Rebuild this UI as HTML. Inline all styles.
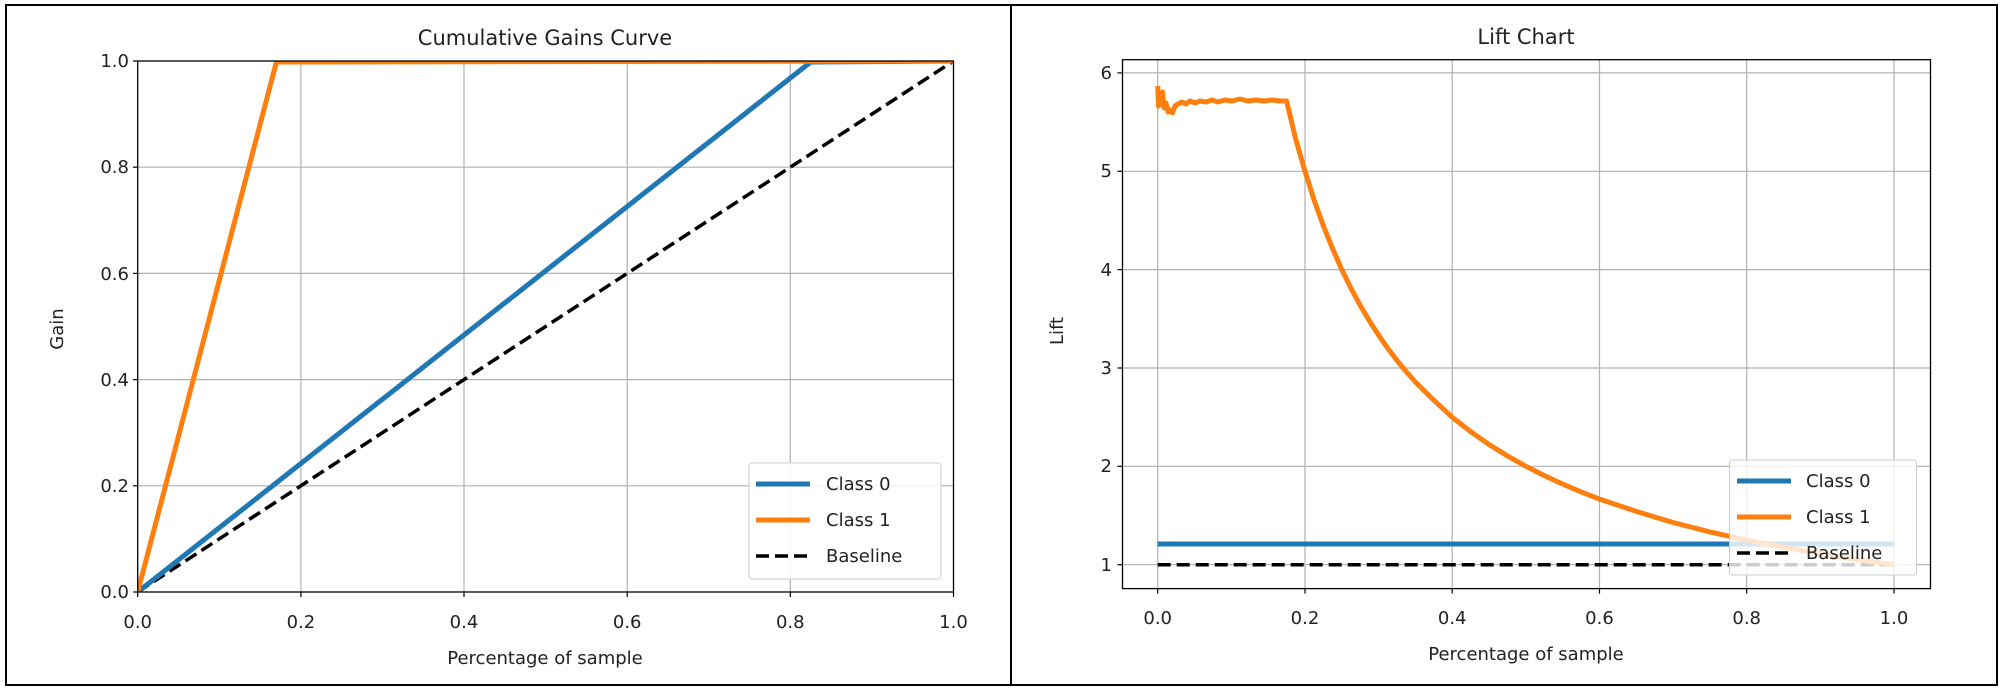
<!DOCTYPE html>
<html><head><meta charset="utf-8"><style>body{margin:0;background:#fff}svg{display:block}</style></head><body>
<svg width="2008" height="693" xmlns="http://www.w3.org/2000/svg" font-family="'DejaVu Sans','Liberation Sans',sans-serif" fill="#222">
<defs>
<clipPath id="c1"><rect x="137.7" y="61" width="815.8" height="531"/></clipPath>
<clipPath id="c2"><rect x="1122.5" y="59.7" width="808" height="529"/></clipPath>
</defs>
<rect x="6" y="5" width="1991" height="680" fill="none" stroke="#000" stroke-width="2"/>
<line x1="1011" y1="5" x2="1011" y2="685" stroke="#000" stroke-width="2"/>

<!-- LEFT -->
<g stroke="#b0b0b0" stroke-width="1.2">
<line x1="300.9" y1="61" x2="300.9" y2="592"/><line x1="464" y1="61" x2="464" y2="592"/><line x1="627.2" y1="61" x2="627.2" y2="592"/><line x1="790.3" y1="61" x2="790.3" y2="592"/>
<line x1="137.7" y1="485.8" x2="953.5" y2="485.8"/><line x1="137.7" y1="379.6" x2="953.5" y2="379.6"/><line x1="137.7" y1="273.4" x2="953.5" y2="273.4"/><line x1="137.7" y1="167.2" x2="953.5" y2="167.2"/>
</g>
<g clip-path="url(#c1)" fill="none" stroke-linejoin="round">
<polyline points="137.7,592 953.5,61" stroke="#000" stroke-width="3.5" stroke-dasharray="13,6"/>
<polyline points="137.7,592 810.7,62 953.5,61" stroke="#1f77b4" stroke-width="5"/>
<polyline points="137.7,592 276.4,62 953.5,61" stroke="#ff7f0e" stroke-width="5"/>
</g>
<rect x="137.7" y="61" width="815.8" height="531" fill="none" stroke="#000" stroke-width="1.3"/>
<g stroke="#000" stroke-width="1.2">
<line x1="137.7" y1="592" x2="137.7" y2="597"/><line x1="300.9" y1="592" x2="300.9" y2="597"/><line x1="464" y1="592" x2="464" y2="597"/><line x1="627.2" y1="592" x2="627.2" y2="597"/><line x1="790.3" y1="592" x2="790.3" y2="597"/><line x1="953.5" y1="592" x2="953.5" y2="597"/>
<line x1="133" y1="592" x2="137.7" y2="592"/><line x1="133" y1="485.8" x2="137.7" y2="485.8"/><line x1="133" y1="379.6" x2="137.7" y2="379.6"/><line x1="133" y1="273.4" x2="137.7" y2="273.4"/><line x1="133" y1="167.2" x2="137.7" y2="167.2"/><line x1="133" y1="61" x2="137.7" y2="61"/>
</g>
<g font-size="18" text-anchor="middle">
<text x="137.7" y="628">0.0</text><text x="300.9" y="628">0.2</text><text x="464" y="628">0.4</text><text x="627.2" y="628">0.6</text><text x="790.3" y="628">0.8</text><text x="953.5" y="628">1.0</text>
</g>
<g font-size="18" text-anchor="end">
<text x="129" y="598">0.0</text><text x="129" y="492">0.2</text><text x="129" y="386">0.4</text><text x="129" y="280">0.6</text><text x="129" y="173">0.8</text><text x="129" y="67">1.0</text>
</g>
<text x="545" y="45" font-size="21" text-anchor="middle">Cumulative Gains Curve</text>
<text x="545" y="664" font-size="18" text-anchor="middle">Percentage of sample</text>
<text transform="translate(63,329) rotate(-90)" font-size="18" text-anchor="middle">Gain</text>
<rect x="749" y="463" width="192" height="116" rx="3" fill="#fff" fill-opacity="0.85" stroke="#ccc"/>
<line x1="756" y1="484" x2="810" y2="484" stroke="#1f77b4" stroke-width="5"/>
<line x1="756" y1="520" x2="810" y2="520" stroke="#ff7f0e" stroke-width="5"/>
<line x1="756" y1="556" x2="810" y2="556" stroke="#000" stroke-width="3.5" stroke-dasharray="13,6"/>
<g font-size="18"><text x="826" y="490">Class 0</text><text x="826" y="526">Class 1</text><text x="826" y="562">Baseline</text></g>

<!-- RIGHT -->
<g stroke="#b0b0b0" stroke-width="1.2">
<line x1="1157.7" y1="59.7" x2="1157.7" y2="588.6"/><line x1="1305" y1="59.7" x2="1305" y2="588.6"/><line x1="1452.2" y1="59.7" x2="1452.2" y2="588.6"/><line x1="1599.5" y1="59.7" x2="1599.5" y2="588.6"/><line x1="1746.7" y1="59.7" x2="1746.7" y2="588.6"/><line x1="1894" y1="59.7" x2="1894" y2="588.6"/>
<line x1="1122.5" y1="564.7" x2="1930.5" y2="564.7"/><line x1="1122.5" y1="466.3" x2="1930.5" y2="466.3"/><line x1="1122.5" y1="368" x2="1930.5" y2="368"/><line x1="1122.5" y1="269.6" x2="1930.5" y2="269.6"/><line x1="1122.5" y1="171.3" x2="1930.5" y2="171.3"/><line x1="1122.5" y1="72.9" x2="1930.5" y2="72.9"/>
</g>
<g clip-path="url(#c2)" fill="none" stroke-linejoin="round">
<line x1="1157.7" y1="564.7" x2="1894" y2="564.7" stroke="#000" stroke-width="3.5" stroke-dasharray="13,6"/>
<line x1="1157.7" y1="544" x2="1894" y2="544" stroke="#1f77b4" stroke-width="5"/>
<polyline stroke="#ff7f0e" stroke-width="5" points="1157.7,86 1158.5,106 1160,95 1161,104 1162.5,92 1164,108 1166,103 1168,112 1170,110 1172.4,113 1175,106 1178,104 1182,102 1186,104 1190,101 1195,103 1200,101 1206,102 1212,100 1218,102 1225,100 1232,101 1240,99 1248,101 1256,100 1264,101 1272,100 1280,101 1286.6,101 1295.8,139.5 1305,171.3 1314.2,200.3 1323.4,225.9 1332.6,248.6 1341.8,269.6 1351,288.3 1360.2,305.4 1369.4,320.9 1378.6,335.2 1387.8,348.3 1397,360.4 1406.2,371.6 1415.4,382 1433.8,400.2 1452.2,417.2 1470.6,431.6 1489,444.5 1507.4,455.9 1525.9,466.3 1544.3,475.6 1562.7,484.1 1581.1,491.9 1599.5,499.1 1636.3,511.4 1673.1,522.5 1709.9,531.9 1746.7,540.1 1783.5,547.3 1820.4,553.8 1857.2,559.6 1894,564.7"/>
</g>
<rect x="1122.5" y="59.7" width="808" height="528.9" fill="none" stroke="#000" stroke-width="1.3"/>
<g stroke="#000" stroke-width="1.2">
<line x1="1157.7" y1="588.6" x2="1157.7" y2="593.6"/><line x1="1305" y1="588.6" x2="1305" y2="593.6"/><line x1="1452.2" y1="588.6" x2="1452.2" y2="593.6"/><line x1="1599.5" y1="588.6" x2="1599.5" y2="593.6"/><line x1="1746.7" y1="588.6" x2="1746.7" y2="593.6"/><line x1="1894" y1="588.6" x2="1894" y2="593.6"/>
<line x1="1117.5" y1="564.7" x2="1122.5" y2="564.7"/><line x1="1117.5" y1="466.3" x2="1122.5" y2="466.3"/><line x1="1117.5" y1="368" x2="1122.5" y2="368"/><line x1="1117.5" y1="269.6" x2="1122.5" y2="269.6"/><line x1="1117.5" y1="171.3" x2="1122.5" y2="171.3"/><line x1="1117.5" y1="72.9" x2="1122.5" y2="72.9"/>
</g>
<g font-size="18" text-anchor="middle">
<text x="1157.7" y="624">0.0</text><text x="1305" y="624">0.2</text><text x="1452.2" y="624">0.4</text><text x="1599.5" y="624">0.6</text><text x="1746.7" y="624">0.8</text><text x="1894" y="624">1.0</text>
</g>
<g font-size="18" text-anchor="end">
<text x="1112" y="571">1</text><text x="1112" y="472">2</text><text x="1112" y="374">3</text><text x="1112" y="276">4</text><text x="1112" y="177">5</text><text x="1112" y="79">6</text>
</g>
<text x="1526" y="44" font-size="21" text-anchor="middle">Lift Chart</text>
<text x="1526" y="660" font-size="18" text-anchor="middle">Percentage of sample</text>
<text transform="translate(1063,331) rotate(-90)" font-size="18" text-anchor="middle">Lift</text>
<rect x="1729.5" y="460" width="187" height="115" rx="3" fill="#fff" fill-opacity="0.8" stroke="#ccc"/>
<line x1="1737" y1="481" x2="1791" y2="481" stroke="#1f77b4" stroke-width="5"/>
<line x1="1737" y1="517" x2="1791" y2="517" stroke="#ff7f0e" stroke-width="5"/>
<line x1="1737" y1="553" x2="1791" y2="553" stroke="#000" stroke-width="3.5" stroke-dasharray="13,6"/>
<g font-size="18"><text x="1806" y="487">Class 0</text><text x="1806" y="523">Class 1</text><text x="1806" y="559">Baseline</text></g>
</svg>
</body></html>
